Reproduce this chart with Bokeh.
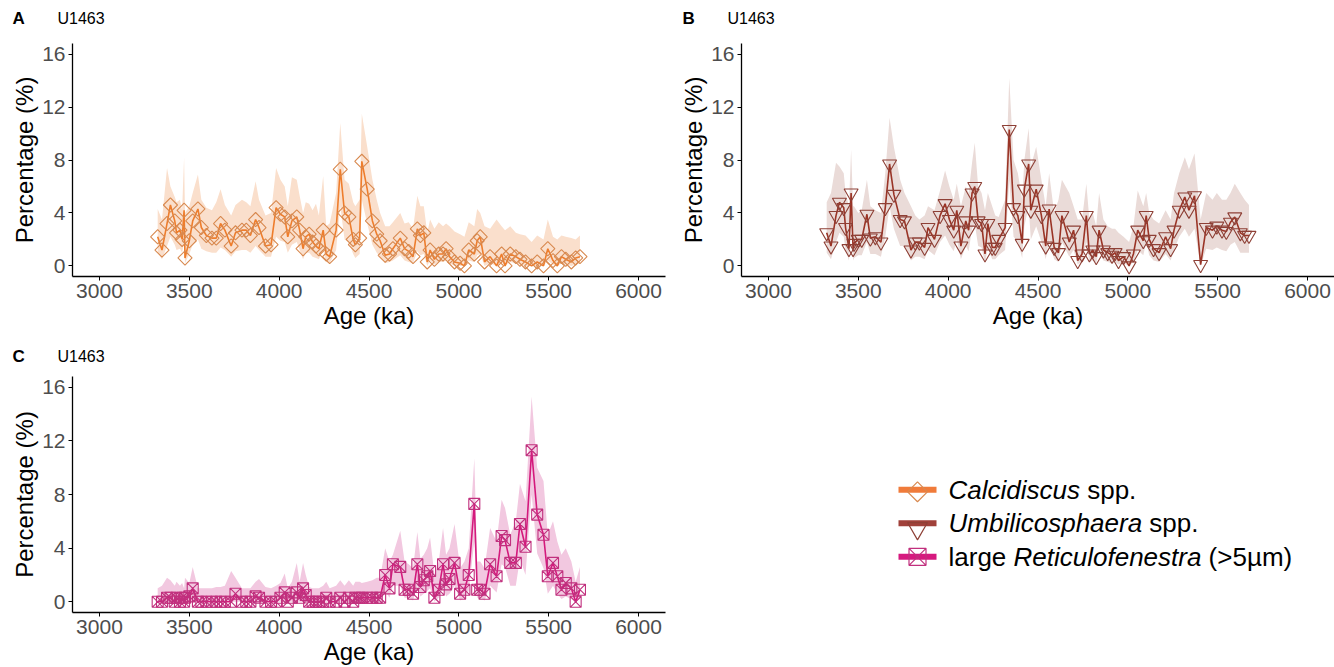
import numpy as np
from bokeh.plotting import figure
from bokeh.layouts import column, row
from bokeh.models import Range1d, FixedTicker, Label
from bokeh.core.properties import value
from bokeh.embed import file_html
from bokeh.resources import INLINE

# ---------------- data ----------------
site = "U1463"
x_ticks = [3000, 3500, 4000, 4500, 5000, 5500, 6000]
y_ticks = [0, 4, 8, 12, 16]

age = [3324, 3348, 3376, 3395, 3419, 3429, 3448, 3460, 3471, 3476,
       3500, 3519, 3548, 3567, 3595, 3626, 3650, 3674, 3698, 3733,
       3757, 3793, 3817, 3840, 3869, 3888, 3924, 3955, 3983, 4007,
       4031, 4048, 4071, 4098, 4114, 4133, 4148, 4167, 4186, 4205,
       4221, 4245, 4262, 4281, 4317, 4340, 4364, 4388, 4412, 4424,
       4448, 4460, 4490, 4519, 4543, 4562, 4590, 4614, 4633, 4674,
       4698, 4721, 4745, 4769, 4786, 4805, 4824, 4840, 4864, 4888,
       4912, 4929, 4948, 4976, 5007, 5031, 5055, 5086, 5102, 5119,
       5143, 5174, 5210, 5238, 5257, 5286, 5317, 5340, 5371, 5405,
       5436, 5471, 5495, 5524, 5548, 5571, 5595, 5626, 5650, 5674]

calcidiscus = [2.2, 1.2, 3.2, 4.6, 3.4, 2.5, 2.7, 2.0, 4.2, 0.6,
               1.9, 3.4, 4.3, 2.9, 2.3, 2.1, 2.1, 3.2, 2.7, 1.5,
               2.5, 2.7, 2.7, 2.3, 3.5, 2.9, 1.5, 1.6, 4.4, 3.9,
               3.7, 2.2, 3.4, 3.7, 2.7, 1.3, 2.2, 2.4, 1.8, 1.5,
               1.3, 2.7, 0.9, 0.7, 2.7, 7.3, 4.0, 3.7, 2.0, 1.6,
               2.1, 7.9, 5.8, 3.4, 2.4, 1.9, 0.8, 0.9, 1.3, 2.1,
               1.3, 1.1, 0.7, 2.8, 2.3, 2.5, 0.3, 1.2, 0.5, 0.9,
               0.9, 1.3, 0.7, 0.3, 0.2, 0.0, 1.2, 0.9, 1.9, 2.2,
               0.3, 0.7, 0.0, 0.9, 0.0, 0.9, 0.7, 0.5, 0.3, 0.0,
               0.3, 0.0, 1.3, 0.4, 0.0, 0.7, 0.5, 0.3, 0.6, 0.7]
calcidiscus_lo = [1.0, 0.5, 1.5, 2.2, 1.6, 1.2, 1.3, 1.0, 1.8, 0.2,
                  0.9, 1.6, 2.0, 1.3, 1.1, 1.0, 1.0, 1.4, 1.2, 0.7,
                  1.1, 1.2, 1.2, 1.0, 1.5, 1.2, 0.7, 0.7, 2.2, 1.9,
                  1.8, 1.0, 1.6, 1.8, 1.2, 0.5, 1.0, 1.0, 0.7, 0.6,
                  0.5, 1.2, 0.3, 0.2, 1.2, 4.5, 2.0, 1.8, 0.9, 0.6,
                  0.9, 5.0, 3.2, 1.6, 1.0, 0.7, 0.2, 0.3, 0.4, 0.8,
                  0.4, 0.3, 0.2, 1.1, 0.8, 0.9, 0.0, 0.4, 0.1, 0.3,
                  0.3, 0.4, 0.2, 0.0, 0.0, 0.0, 0.4, 0.3, 0.8, 0.9,
                  0.0, 0.2, 0.0, 0.3, 0.0, 0.3, 0.2, 0.1, 0.0, 0.0,
                  0.0, 0.0, 0.4, 0.1, 0.0, 0.2, 0.1, 0.0, 0.1, 0.2]
calcidiscus_hi = [4.3, 3.5, 7.4, 6.0, 5.2, 4.8, 5.0, 4.2, 8.2, 4.0,
                  4.5, 5.5, 6.9, 5.0, 4.4, 4.2, 4.8, 5.8, 4.6, 3.8,
                  4.6, 5.0, 4.8, 4.5, 6.4, 5.0, 3.8, 4.0, 7.4, 6.5,
                  6.0, 4.5, 6.7, 6.5, 5.3, 4.0, 4.8, 4.7, 4.2, 4.7,
                  3.8, 6.8, 3.0, 3.2, 5.5, 10.8, 6.5, 6.2, 4.8, 4.5,
                  5.0, 11.5, 9.0, 6.5, 5.0, 4.0, 3.0, 3.0, 3.3, 4.0,
                  3.2, 3.3, 2.8, 5.3, 4.5, 4.5, 2.5, 3.5, 2.8, 3.3,
                  3.0, 3.2, 3.0, 2.6, 2.4, 2.2, 3.3, 3.0, 4.3, 4.0,
                  3.0, 2.8, 3.5, 3.0, 2.7, 3.0, 2.5, 2.4, 2.3, 1.8,
                  2.3, 2.0, 3.5, 2.2, 2.0, 2.3, 2.2, 2.1, 2.0, 2.3]

umbilicosphaera = [2.5, 1.5, 3.8, 4.8, 4.4, 2.9, 1.3, 5.5, 1.3, 1.7,
                   2.0, 2.0, 3.9, 2.1, 2.2, 1.8, 4.4, 7.7, 5.4, 3.5,
                   3.4, 1.2, 1.8, 1.8, 1.4, 2.9, 2.0, 3.8, 4.7, 3.5,
                   2.7, 4.2, 1.5, 3.4, 2.7, 5.5, 6.0, 3.4, 3.2, 0.9,
                   3.2, 1.4, 1.4, 2.0, 2.9, 10.3, 4.4, 3.8, 1.7, 5.8,
                   7.7, 4.2, 5.8, 3.8, 1.5, 4.3, 1.4, 1.0, 3.8, 1.8,
                   2.7, 0.4, 0.9, 3.8, 0.9, 1.2, 0.7, 2.7, 1.2, 1.0,
                   0.8, 1.0, 0.4, 0.7, 0.0, 0.9, 2.7, 1.9, 3.8, 2.0,
                   1.3, 1.0, 2.2, 1.3, 2.7, 4.2, 5.2, 4.2, 5.3, 0.1,
                   2.9, 2.7, 3.0, 2.7, 2.6, 3.3, 3.7, 2.5, 2.3, 2.3]
umbilicosphaera_lo = [1.0, 0.5, 1.8, 2.5, 2.2, 1.2, 0.4, 2.8, 0.4, 0.6,
                      0.8, 0.8, 1.8, 0.9, 0.9, 0.7, 2.2, 4.5, 2.8, 1.5,
                      1.5, 0.4, 0.7, 0.7, 0.5, 1.2, 0.8, 1.8, 2.3, 1.6,
                      1.1, 2.0, 0.5, 1.5, 1.1, 2.8, 3.2, 1.5, 1.4, 0.2,
                      1.4, 0.5, 0.5, 0.8, 1.2, 6.5, 2.2, 1.8, 0.6, 3.0,
                      4.5, 2.0, 3.0, 1.8, 0.5, 2.0, 0.5, 0.3, 1.8, 0.7,
                      1.2, 0.1, 0.3, 1.8, 0.3, 0.4, 0.2, 1.2, 0.4, 0.3,
                      0.2, 0.3, 0.1, 0.2, 0.0, 0.3, 1.2, 0.8, 1.8, 0.8,
                      0.4, 0.3, 0.9, 0.4, 1.2, 2.2, 2.8, 2.2, 2.8, 0.0,
                      1.3, 1.2, 1.4, 1.2, 1.1, 1.6, 1.8, 1.0, 1.0, 1.0]
umbilicosphaera_hi = [4.8, 5.5, 7.8, 7.5, 7.0, 5.5, 4.5, 8.8, 4.5, 4.5,
                      4.0, 4.2, 6.5, 4.5, 4.2, 4.0, 7.0, 11.2, 9.0, 6.5,
                      5.5, 4.5, 3.8, 3.5, 3.8, 4.5, 4.2, 5.7, 7.2, 6.0,
                      5.0, 6.2, 4.5, 6.0, 5.5, 7.8, 9.3, 6.0, 5.5, 4.2,
                      5.5, 4.5, 3.8, 3.7, 5.0, 14.2, 8.0, 7.0, 5.0, 8.0,
                      10.4, 7.5, 9.0, 6.5, 4.5, 7.0, 4.0, 5.0, 6.5, 5.5,
                      4.5, 3.5, 3.5, 6.2, 3.5, 4.0, 3.0, 5.5, 3.5, 3.0,
                      2.8, 2.8, 2.5, 2.2, 1.8, 3.0, 5.7, 4.5, 5.5, 4.0,
                      3.5, 3.2, 4.2, 3.5, 5.5, 7.0, 8.2, 7.3, 8.5, 3.5,
                      5.5, 5.0, 5.5, 5.0, 5.0, 5.5, 6.2, 5.5, 5.0, 4.6]

reticulofenestra = [0.0, 0.0, 0.3, 0.3, 0.0, 0.3, 0.0, 0.3, 0.0, 0.3,
                    0.4, 1.0, 0.0, 0.0, 0.0, 0.0, 0.0, 0.0, 0.0, 0.0,
                    0.6, 0.0, 0.0, 0.0, 0.4, 0.3, 0.0, 0.0, 0.0, 0.3,
                    0.7, 0.0, 0.3, 0.7, 0.3, 1.0, 0.5, 0.0, 0.0, 0.0,
                    0.0, 0.0, 0.3, 0.0, 0.0, 0.3, 0.0, 0.3, 0.0, 0.3,
                    0.3, 0.3, 0.3, 0.3, 0.3, 0.3, 2.0, 1.0, 2.8, 2.6,
                    0.9, 0.9, 0.6, 2.8, 1.1, 1.6, 1.9, 2.3, 0.3, 0.9,
                    2.8, 1.3, 1.7, 2.9, 0.6, 0.9, 2.0, 7.3, 0.9, 0.9,
                    0.6, 2.8, 1.9, 4.9, 4.6, 2.9, 2.9, 5.8, 4.1, 11.3,
                    6.5, 5.0, 1.9, 2.9, 1.9, 0.9, 1.4, 1.0, 0.0, 0.9]
reticulofenestra_lo = [0.0] * 56 + [
                    0.8, 0.3, 1.2, 1.2,
                    0.3, 0.3, 0.1, 1.2, 0.4, 0.6, 0.8, 1.0, 0.0, 0.3,
                    1.2, 0.4, 0.6, 1.2, 0.1, 0.3, 0.8, 4.5, 0.3, 0.3,
                    0.1, 1.2, 0.7, 2.8, 2.6, 1.2, 1.2, 3.2, 2.0, 8.0,
                    3.6, 2.5, 0.6, 1.2, 0.6, 0.2, 0.4, 0.2, 0.0, 0.2]
reticulofenestra_hi = [1.0, 1.2, 1.8, 1.6, 1.2, 1.5, 1.2, 1.4, 1.0, 1.8,
                       1.4, 2.6, 1.0, 1.0, 1.0, 1.0, 1.1, 1.1, 1.2, 2.3,
                       1.8, 1.0, 1.0, 1.0, 1.5, 1.7, 1.1, 1.0, 1.2, 1.4,
                       2.1, 1.0, 1.5, 2.9, 1.5, 2.9, 2.0, 1.1, 1.0, 1.0,
                       1.0, 1.2, 1.5, 1.0, 1.2, 1.6, 1.2, 1.6, 1.2, 1.5,
                       1.5, 1.4, 1.5, 1.6, 1.8, 1.8, 4.0, 3.0, 3.5, 5.3,
                       3.0, 2.8, 2.5, 5.2, 3.2, 3.5, 4.0, 4.8, 2.0, 3.0,
                       5.5, 3.5, 4.0, 5.8, 2.5, 3.0, 4.0, 10.7, 3.0, 3.0,
                       2.5, 5.5, 4.5, 7.6, 7.0, 5.0, 6.0, 8.8, 7.5, 15.3,
                       10.0, 9.0, 5.0, 6.0, 4.5, 3.5, 4.0, 3.0, 1.5, 2.6]

legend_names = [("Calcidiscus", " spp.", ""),
                ("Umbilicosphaera", " spp.", ""),
                ("Reticulofenestra", " (>5\u00b5m)", "large ")]

# ---------------- styling ----------------
FONT = "Liberation Sans"
ORANGE = dict(line="#EE7D2C", mark="#D8894F", band="#FADFCC", key="#F07B3A")
BROWN = dict(line="#9A3426", mark="#8E4036", band="#EADBD8", key="#A0413A")
PINK = dict(line="#D4197C", mark="#C1307E", band="#F2C8E0", key="#D6197F")
Y_RANGE = (-0.8, 16.8)


def panel(tag, w, h, bl, br, bt, bb, vals, lo, hi, col, marker, msize, angle, tag_y):
    p = figure(width=w, height=h, output_backend="svg", toolbar_location=None,
               x_range=Range1d(2850, 6150), y_range=Range1d(*Y_RANGE),
               min_border_left=bl, min_border_right=br,
               min_border_top=bt, min_border_bottom=bb)
    p.varea(x=age, y1=lo, y2=hi, fill_color=col["band"], fill_alpha=1.0)
    p.line(age, vals, line_color=col["line"], line_width=1.6)
    p.scatter(age, vals, marker=marker, size=msize, angle=angle,
              fill_color=None, line_color=col["mark"], line_width=1.1)
    p.xgrid.visible = False
    p.ygrid.visible = False
    p.outline_line_color = None
    p.background_fill_color = "white"
    p.border_fill_color = "white"
    p.xaxis.ticker = FixedTicker(ticks=x_ticks)
    p.yaxis.ticker = FixedTicker(ticks=y_ticks)
    p.xaxis.axis_label = "Age (ka)"
    p.yaxis.axis_label = "Percentage (%)"
    for ax in (p.xaxis[0], p.yaxis[0]):
        ax.axis_label_text_font = FONT
        ax.axis_label_text_font_style = "normal"
        ax.axis_label_text_font_size = "24px"
        ax.axis_label_text_color = "black"
        ax.axis_label_standoff = 1
        ax.major_label_text_font = FONT
        ax.major_label_text_font_size = "21px"
        ax.major_label_text_color = "#4D4D4D"
        ax.major_label_standoff = 3
        ax.major_tick_in = 0
        ax.major_tick_out = 4
        ax.minor_tick_in = 0
        ax.minor_tick_out = 0
        ax.axis_line_color = "black"
        ax.axis_line_width = 1.3
        ax.major_tick_line_color = "black"
    # panel tag and site name, placed in the panel above the frame (screen x from frame's left)
    p.add_layout(Label(x=12 - bl, y=tag_y, x_units="screen", y_units="data", text=tag,
                       text_font=FONT, text_font_style="bold", text_font_size="17px",
                       text_baseline="middle", text_color="black"), "above")
    p.add_layout(Label(x=57 - bl, y=tag_y, x_units="screen", y_units="data", text=site,
                       text_font=FONT, text_font_size="16px",
                       text_baseline="middle", text_color="black"), "above")
    return p


pA = panel("A", 670, 335, 72, 5, 43, 59, calcidiscus, calcidiscus_lo, calcidiscus_hi,
           ORANGE, "square", 10, np.pi / 4, 18.7)
pB = panel("B", 664, 335, 71, 0, 43, 59, umbilicosphaera, umbilicosphaera_lo,
           umbilicosphaera_hi, BROWN, "inverted_triangle", 14, 0, 18.7)
pC = panel("C", 670, 332, 72, 5, 41, 55, reticulofenestra, reticulofenestra_lo,
           reticulofenestra_hi, PINK, "square_x", 11, 0, 18.3)

# ---------------- legend (separate figure; its frame is aligned with panel C) ----------------
ARIAL = {'C': 722, 'U': 722, 'R': 722, 'a': 556, 'b': 556, 'c': 500, 'd': 556, 'e': 556,
         'f': 278, 'g': 556, 'h': 556, 'i': 222, 'l': 222, 'm': 833, 'n': 556, 'o': 556,
         'p': 556, 'r': 333, 's': 500, 't': 278, 'u': 556, ' ': 278, '.': 278, '(': 333,
         ')': 333, '>': 584, '5': 556, '\u00b5': 576}


def tw(s, size):
    return sum(ARIAL.get(ch, 556) for ch in s) / 1000.0 * size


LW = 664
pL = figure(width=LW, height=332, output_backend="svg", toolbar_location=None,
            x_range=Range1d(0, LW), y_range=Range1d(*Y_RANGE),
            x_axis_type=None, y_axis_type=None,
            min_border_left=0, min_border_right=0, min_border_top=41, min_border_bottom=55)
pL.xgrid.visible = False
pL.ygrid.visible = False
pL.outline_line_color = None

fs = 26
key_x0, key_x1, text_x = 228, 266, 278
rows_y = [8.35, 5.85, 3.35]          # vertical slots of the three entries (panel C scale)
px_per_unit = 13.4
cols = [ORANGE, BROWN, PINK]
markers = [("square", 14, np.pi / 4, 2), ("inverted_triangle", 20, 0, 5), ("square_x", 17, 0, 0)]
for (ital, after, before), yy, col, (mk, ms, ang, dy) in zip(legend_names, rows_y, cols, markers):
    pL.segment(x0=[key_x0], y0=[yy], x1=[key_x1], y1=[yy], line_color=col["key"], line_width=6)
    pL.scatter(x=[(key_x0 + key_x1) / 2], y=[yy - dy / px_per_unit], marker=mk, size=ms, angle=ang,
               fill_color=None, line_color=col["mark"], line_width=1.2)
    x = text_x
    if before:
        pL.text(x=[x], y=[yy], text=[before.strip()], text_font=value(FONT),
                text_font_size=f"{fs}px", text_baseline="middle", text_color="black")
        x += tw(before, fs)
    pL.text(x=[x], y=[yy], text=[ital], text_font=value(FONT), text_font_style="italic",
            text_font_size=f"{fs}px", text_baseline="middle", text_color="black")
    x += tw(ital, fs) + tw(" ", fs)
    pL.text(x=[x], y=[yy], text=[after.strip()], text_font=value(FONT),
            text_font_size=f"{fs}px", text_baseline="middle", text_color="black")

layout = column(row(pA, pB), row(pC, pL))
open("out.html", "w").write(file_html(layout, INLINE))
